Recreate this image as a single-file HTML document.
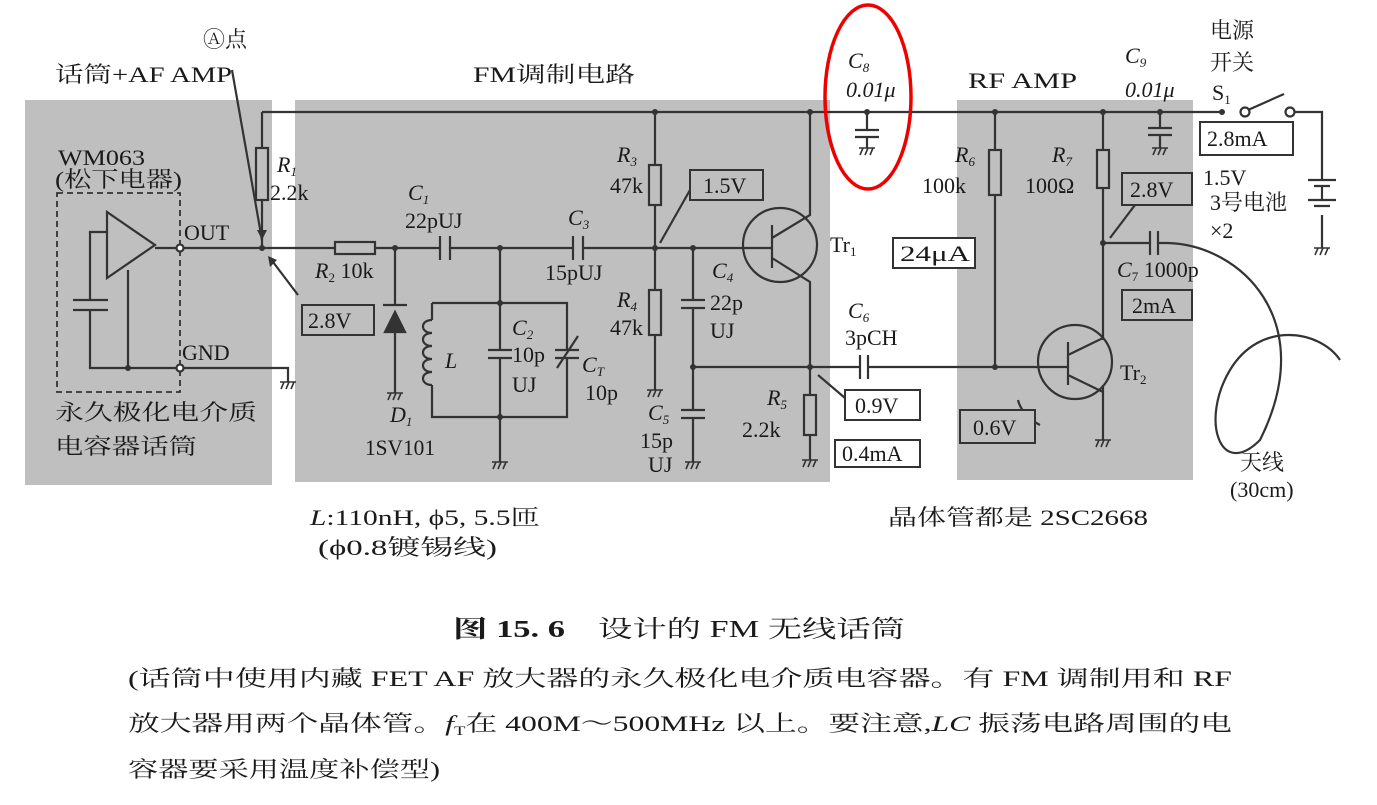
<!DOCTYPE html>
<html><head><meta charset="utf-8"><style>
body{margin:0;background:#fff}
svg text{font-family:"Liberation Serif","Noto Serif CJK SC",serif;fill:#1a1a1a}
</style></head><body>
<svg width="1377" height="800" viewBox="0 0 1377 800" xmlns="http://www.w3.org/2000/svg">
<defs>
<g id="gnd" stroke="#333" stroke-width="1.6" fill="none"><path d="M-8 0H8M-7 7L-4 0M-2 7L1 0M3 7L6 0"/></g>
</defs>
<g fill="#bfbfbf">
<rect x="25" y="100" width="247" height="385"/>
<rect x="295" y="100" width="535" height="382"/>
<rect x="957" y="100" width="236" height="380"/>
</g>
<g stroke="#333" stroke-width="2.2" fill="none">
<path d="M262 112H1222"/>
<circle cx="1245" cy="112" r="4.5" fill="#fff"/>
<circle cx="1290" cy="112" r="4.5" fill="#fff"/>
<path d="M1248 110L1284 94"/>
<path d="M1295 112H1322V180M1322 215V248"/>
<path d="M1308 180H1336M1314 186H1330M1308 200H1336M1314 206H1330M1322 186V200"/>
<path d="M262 112V148M262 200V248"/>
<rect x="256" y="148" width="12" height="52"/>
<path d="M180 248H335M375 248H440M450 248H573M583 248H745"/>
<rect x="335" y="242" width="40" height="12"/>
<path d="M440 236V260M450 236V260M573 236V260M583 236V260"/>
<rect x="57" y="193" width="123" height="199" stroke-dasharray="6,4" stroke-width="1.8"/>
<path d="M107 212V278L155 245Z"/>
<path d="M155 248H177"/>
<path d="M107 232H90V300M73 300H108M73 310H108M90 310V368H177M128 368V270"/>
<circle cx="180" cy="248" r="3.5" fill="#fff"/>
<circle cx="180" cy="368" r="3.5" fill="#fff"/>
<path d="M183 368H288V382"/>
<path d="M395 248V305M395 330V393"/>
<path d="M383 305H407"/>
<path d="M385 332L395 312L405 332Z" fill="#333"/>
<path d="M500 248V350M500 358V462"/>
<path d="M488 350H512M488 358H512"/>
<path d="M432 303H567V350M567 358V417H432V385M432 320V303"/>
<path d="M555 350H579M555 358H579M557 368L578 336"/>
<path d="M432 320c-12 0-12 13 0 13c-12 0-12 13 0 13c-12 0-12 13 0 13c-12 0-12 13 0 13c-12 0-12 13 0 13"/>
<path d="M655 112V165M655 205V290M655 335V390"/>
<rect x="649" y="165" width="12" height="40"/>
<rect x="649" y="290" width="12" height="45"/>
<path d="M690 190L660 243"/>
<path d="M693 248V300M693 308V410M693 418V462"/>
<path d="M681 300H705M681 308H705M681 410H705M681 418H705"/>
<path d="M693 367H860M868 367H1040"/>
<path d="M860 355V379M868 355V379"/>
<circle cx="780" cy="245" r="37"/>
<path d="M772 225V268M745 248H772M772 238L810 215V112M772 258L810 282V395M810 435V460"/>
<rect x="804" y="395" width="12" height="40"/>
<path d="M845 398L818 375"/>
<path d="M867 112V130M855 130H879M855 137H879M867 137V148"/>
<path d="M995 112V150M995 195V367"/>
<rect x="989" y="150" width="12" height="45"/>
<path d="M1103 112V150M1103 188V340M1103 385V440"/>
<rect x="1097" y="150" width="12" height="38"/>
<circle cx="1075" cy="362" r="37"/>
<path d="M1068 342V385M1040 367H1068M1068 355L1103 338M1068 375L1103 392"/>
<path d="M1103 243H1150M1158 243H1168M1150 231V255M1158 231V255"/>
<path d="M1168 243C1240 245 1320 320 1260 440C1220 480 1200 420 1230 370C1260 320 1320 330 1340 360"/>
<path d="M1135 205L1110 238"/>
<path d="M1040 425C1030 420 1020 410 1018 400"/>
<path d="M1160 112V128M1148 128H1172M1148 135H1172M1160 135V148"/>
<path d="M232 70L262 240M298 295L270 258"/>
</g>
<use href="#gnd" x="288" y="382"/><use href="#gnd" x="395" y="393"/><use href="#gnd" x="500" y="462"/>
<use href="#gnd" x="655" y="390"/><use href="#gnd" x="693" y="462"/><use href="#gnd" x="810" y="460"/>
<use href="#gnd" x="867" y="148"/><use href="#gnd" x="1103" y="440"/><use href="#gnd" x="1160" y="148"/>
<use href="#gnd" x="1322" y="248"/>
<g fill="#333">
<circle cx="262" cy="248" r="3"/><circle cx="395" cy="248" r="3"/><circle cx="500" cy="248" r="3"/>
<circle cx="500" cy="303" r="3"/><circle cx="500" cy="417" r="3"/><circle cx="655" cy="248" r="3"/>
<circle cx="655" cy="112" r="3"/><circle cx="693" cy="248" r="3"/><circle cx="693" cy="367" r="3"/>
<circle cx="810" cy="367" r="3"/><circle cx="810" cy="112" r="3"/><circle cx="867" cy="112" r="3"/>
<circle cx="995" cy="112" r="3"/><circle cx="995" cy="367" r="3"/><circle cx="1103" cy="112" r="3"/>
<circle cx="1103" cy="243" r="3"/><circle cx="1160" cy="112" r="3"/><circle cx="1222" cy="112" r="3"/>
<circle cx="128" cy="368" r="3"/>
<path d="M262 240l-5-10h10z"/><path d="M268 256l2 11 7-7z"/>
</g>
<g stroke="#333" stroke-width="2" fill="#fff">
<rect x="302" y="305" width="72" height="30" fill="#bfbfbf"/>
<rect x="690" y="170" width="73" height="30" fill="#bfbfbf"/>
<rect x="845" y="390" width="75" height="30"/>
<rect x="835" y="440" width="85" height="27"/>
<rect x="893" y="238" width="82" height="30"/>
<rect x="1122" y="173" width="70" height="32" fill="#bfbfbf"/>
<rect x="1122" y="290" width="70" height="30" fill="#bfbfbf"/>
<rect x="960" y="410" width="75" height="33" fill="#bfbfbf"/>
<rect x="1200" y="122" width="93" height="33"/>
</g>
<ellipse cx="868" cy="97" rx="43" ry="92" fill="none" stroke="#e00" stroke-width="3.5"/>
<g font-size="22">
<text x="203" y="47">Ⓐ点</text>
<text x="55" y="82" textLength="177" lengthAdjust="spacingAndGlyphs">话筒+AF AMP</text>
<text x="473" y="82" textLength="162" lengthAdjust="spacingAndGlyphs">FM调制电路</text>
<text x="968" y="88" textLength="109" lengthAdjust="spacingAndGlyphs">RF AMP</text>
<text x="58" y="165" textLength="87" lengthAdjust="spacingAndGlyphs">WM063</text>
<text x="55" y="187" textLength="127" lengthAdjust="spacingAndGlyphs">(松下电器)</text>
<text x="184" y="240">OUT</text>
<text x="182" y="360">GND</text>
<text x="55" y="420" textLength="202" lengthAdjust="spacingAndGlyphs">永久极化电介质</text>
<text x="55" y="454" textLength="142" lengthAdjust="spacingAndGlyphs">电容器话筒</text>
<text x="277" y="172" font-style="italic">R<tspan font-size="13" dy="4">1</tspan></text>
<text x="270" y="200">2.2k</text>
<text x="315" y="278"><tspan font-style="italic">R</tspan><tspan font-size="13" dy="4">2</tspan><tspan dy="-4"> 10k</tspan></text>
<text x="408" y="200" font-style="italic">C<tspan font-size="13" dy="4">1</tspan></text>
<text x="405" y="228">22pUJ</text>
<text x="568" y="225" font-style="italic">C<tspan font-size="13" dy="4">3</tspan></text>
<text x="545" y="280">15pUJ</text>
<text x="390" y="422" font-style="italic">D<tspan font-size="13" dy="4">1</tspan></text>
<text x="365" y="455" textLength="70" lengthAdjust="spacingAndGlyphs">1SV101</text>
<text x="445" y="368" font-style="italic">L</text>
<text x="512" y="335" font-style="italic">C<tspan font-size="13" dy="4">2</tspan></text>
<text x="512" y="362">10p</text>
<text x="512" y="392">UJ</text>
<text x="582" y="372" font-style="italic">C<tspan font-size="13" dy="4">T</tspan></text>
<text x="585" y="400">10p</text>
<text x="617" y="162" font-style="italic">R<tspan font-size="13" dy="4">3</tspan></text>
<text x="610" y="193">47k</text>
<text x="617" y="307" font-style="italic">R<tspan font-size="13" dy="4">4</tspan></text>
<text x="610" y="335">47k</text>
<text x="712" y="278" font-style="italic">C<tspan font-size="13" dy="4">4</tspan></text>
<text x="710" y="310">22p</text>
<text x="710" y="338">UJ</text>
<text x="648" y="420" font-style="italic">C<tspan font-size="13" dy="4">5</tspan></text>
<text x="640" y="448">15p</text>
<text x="648" y="472">UJ</text>
<text x="830" y="252">Tr<tspan font-size="13" dy="4">1</tspan></text>
<text x="848" y="68" font-style="italic">C<tspan font-size="13" dy="4">8</tspan></text>
<text x="846" y="97" font-style="italic">0.01μ</text>
<text x="848" y="318" font-style="italic">C<tspan font-size="13" dy="4">6</tspan></text>
<text x="845" y="345">3pCH</text>
<text x="767" y="405" font-style="italic">R<tspan font-size="13" dy="4">5</tspan></text>
<text x="742" y="437">2.2k</text>
<text x="955" y="162" font-style="italic">R<tspan font-size="13" dy="4">6</tspan></text>
<text x="922" y="193">100k</text>
<text x="1052" y="162" font-style="italic">R<tspan font-size="13" dy="4">7</tspan></text>
<text x="1025" y="193">100Ω</text>
<text x="1125" y="63" font-style="italic">C<tspan font-size="13" dy="4">9</tspan></text>
<text x="1125" y="97" font-style="italic">0.01μ</text>
<text x="1210" y="38">电源</text>
<text x="1210" y="70">开关</text>
<text x="1212" y="100">S<tspan font-size="13" dy="4">1</tspan></text>
<text x="1203" y="185">1.5V</text>
<text x="1210" y="210">3号电池</text>
<text x="1210" y="238">×2</text>
<text x="1117" y="277"><tspan font-style="italic">C</tspan><tspan font-size="13" dy="4">7</tspan><tspan dy="-4"> 1000p</tspan></text>
<text x="1120" y="380">Tr<tspan font-size="13" dy="4">2</tspan></text>
<text x="1240" y="470">天线</text>
<text x="1230" y="497">(30cm)</text>
<text x="308" y="328">2.8V</text>
<text x="703" y="193">1.5V</text>
<text x="855" y="413">0.9V</text>
<text x="842" y="461">0.4mA</text>
<text x="900" y="261" textLength="70" lengthAdjust="spacingAndGlyphs">24μA</text>
<text x="1130" y="197">2.8V</text>
<text x="1132" y="313">2mA</text>
<text x="973" y="435">0.6V</text>
<text x="1207" y="146">2.8mA</text>
<text x="310" y="525" textLength="230" lengthAdjust="spacingAndGlyphs"><tspan font-style="italic">L</tspan>:110nH, ϕ5, 5.5匝</text>
<text x="318" y="555" textLength="179" lengthAdjust="spacingAndGlyphs">(ϕ0.8镀锡线)</text>
<text x="888" y="525" textLength="260" lengthAdjust="spacingAndGlyphs">晶体管都是 2SC2668</text>
</g>
<text x="453" y="637" font-size="24" font-weight="bold" textLength="112" lengthAdjust="spacingAndGlyphs">图 15. 6</text>
<text x="598" y="637" font-size="24" textLength="307" lengthAdjust="spacingAndGlyphs">设计的 FM 无线话筒</text>
<g font-size="22">
<text x="128" y="686" textLength="1104" lengthAdjust="spacingAndGlyphs">(话筒中使用内藏 FET AF 放大器的永久极化电介质电容器。有 FM 调制用和 RF</text>
<text x="128" y="731" textLength="1104" lengthAdjust="spacingAndGlyphs">放大器用两个晶体管。<tspan font-style="italic">f</tspan><tspan font-size="13" dy="4">T</tspan><tspan dy="-4">在 400M～500MHz 以上。要注意,</tspan><tspan font-style="italic">LC</tspan> 振荡电路周围的电</text>
<text x="128" y="777" textLength="312" lengthAdjust="spacingAndGlyphs">容器要采用温度补偿型)</text>
</g>
</svg>
</body></html>
